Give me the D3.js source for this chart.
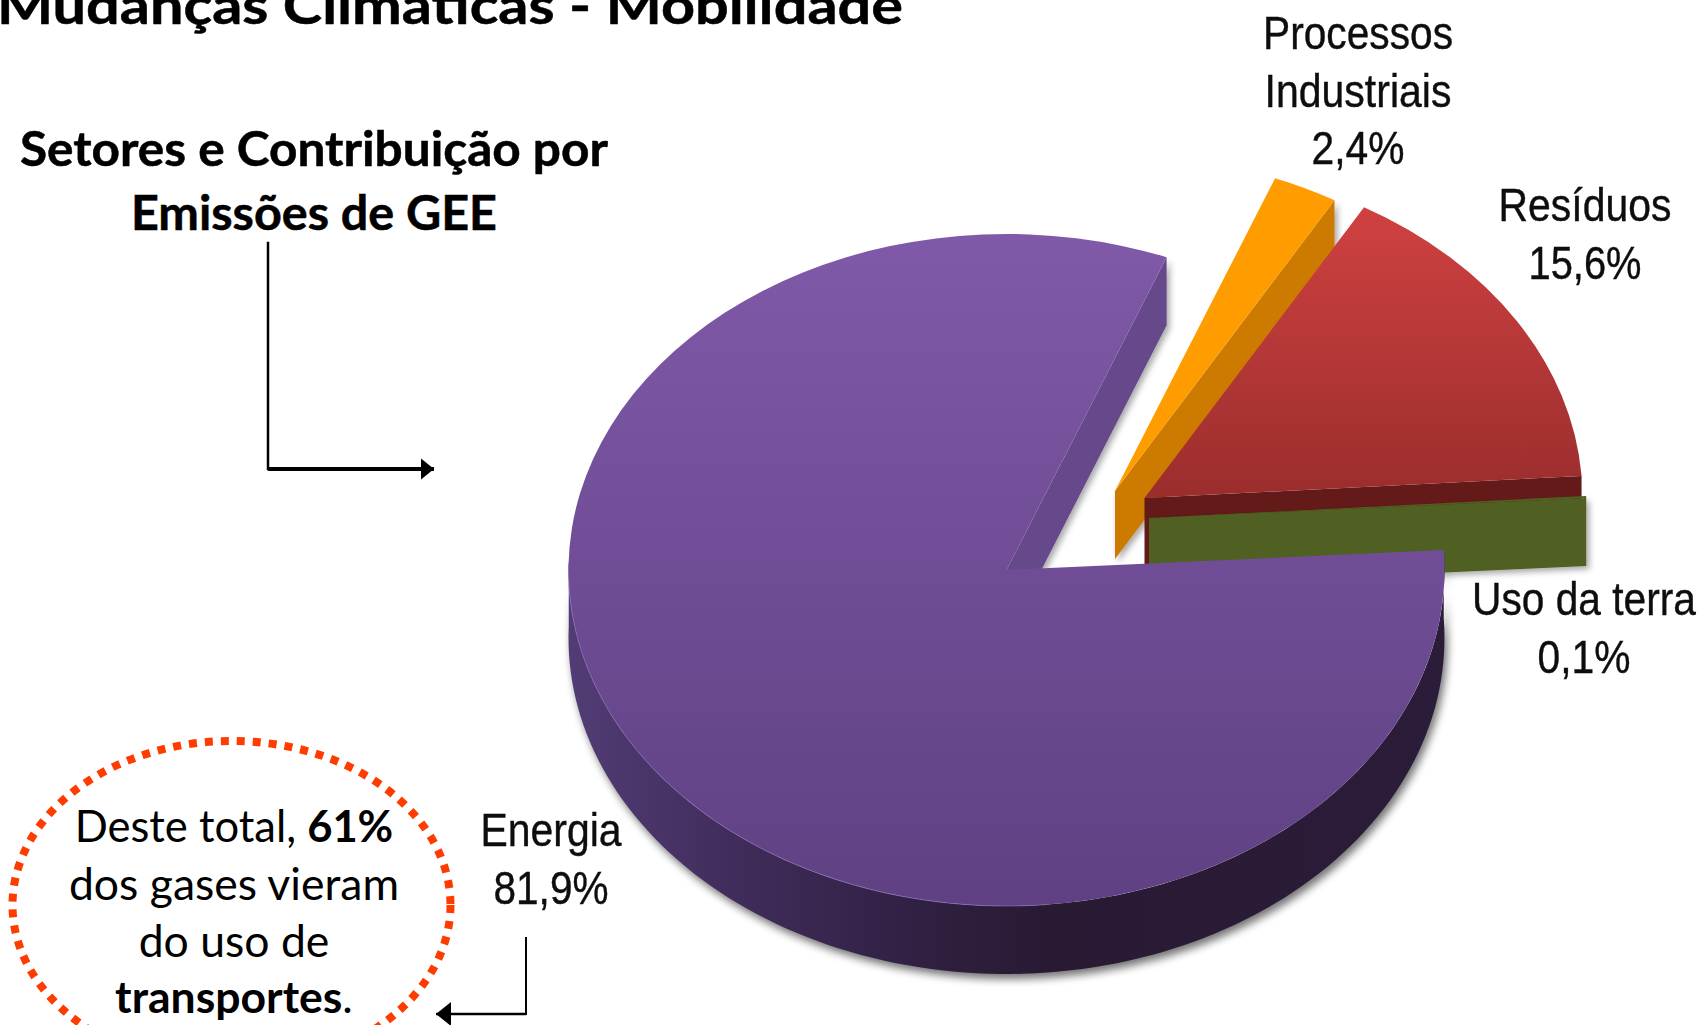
<!DOCTYPE html>
<html>
<head>
<meta charset="utf-8">
<script src="https://cdn.jsdelivr.net/npm/d3@7"></script>
<style>
    html, body { margin: 0; padding: 0; background: #fff; overflow: hidden; }
    svg { display: block; }
</style>
</head>
<body>
<svg id="chart" width="1702" height="1025"></svg>
<script>
// Values
const sectors = ["Energia", "Processos Industriais", "Resíduos", "Uso da terra"];
const shares = [81.9, 2.4, 15.6, 0.1];
const labelLines = [["Energia"], ["Processos", "Industriais"], ["Resíduos"], ["Uso da terra"]];

const titleText = "Mudanças Climáticas - Mobilidade";
const subtitleLines = ["Setores e Contribuição por", "Emissões de GEE"];

const svg = d3.select("#chart");
const defs = svg.append("defs");

// Pie shape
const rx = 438, ry = 336, depth = 68;
const startDeg = 86.6;
const toRad = d => d * Math.PI / 180;

const centers = [[1006.5, 570], [1115, 491], [1144.5, 498], [1149, 518]];
const faceColors = [["#8059a8", "#5f4183"], ["#ff9c00", "#ff9c00"], ["#d04141", "#9b2d2d"], ["#4f6122", "#4f6122"]];
const wallColors = ["#66488b", "#cc7a00", "#641a18", "#4f6122"];

const pie = d3.pie().sort(null)
    .startAngle(toRad(startDeg))
    .endAngle(toRad(startDeg + 360));
const slices = pie(shares);

const arc = d3.arc().innerRadius(0).outerRadius(rx);

// Point on the flattened circle, relative to the slice centre
const rim = a => [rx * Math.sin(a), -ry * Math.cos(a)];

// Gradients for the top faces, spanning the pie height
faceColors.forEach((c, i) => {
    let g = defs.append("linearGradient")
        .attr("id", "face" + i)
        .attr("gradientUnits", "userSpaceOnUse")
        .attr("x1", 0).attr("x2", 0)
        .attr("y1", i == 2 ? -rx * 0.87 : -rx).attr("y2", i == 2 ? 0 : rx);
    g.append("stop").attr("offset", 0).attr("stop-color", c[0]);
    g.append("stop").attr("offset", 1).attr("stop-color", c[1]);
});

let wallGrad = defs.append("linearGradient")
    .attr("id", "outerWall")
    .attr("gradientUnits", "userSpaceOnUse")
    .attr("x1", -rx).attr("x2", rx)
    .attr("y1", 0).attr("y2", 0);
[[0, "#523c75"], [0.2, "#3f2c5a"], [0.4, "#302042"], [0.55, "#281a33"], [1, "#2b1d3a"]].forEach(s => {
    wallGrad.append("stop").attr("offset", s[0]).attr("stop-color", s[1]);
});

let soft = defs.append("filter").attr("id", "soft")
    .attr("x", "-10%").attr("y", "-10%").attr("width", "120%").attr("height", "120%");
soft.append("feGaussianBlur").attr("stdDeviation", 4);

let smallShadow = defs.append("filter").attr("id", "smallShadow")
    .attr("x", "-10%").attr("y", "-10%").attr("width", "120%").attr("height", "120%");
smallShadow.append("feDropShadow")
    .attr("dx", 3).attr("dy", 3).attr("stdDeviation", 3)
    .attr("flood-color", "#000").attr("flood-opacity", 0.35);

let textBlur = defs.append("filter").attr("id", "textBlur");
textBlur.append("feGaussianBlur").attr("stdDeviation", 0.5);

// Outer wall of a slice, from angle a0 to a1
const outerWallPath = (a0, a1) => {
    let angles = d3.range(0, 121).map(i => a0 + (a1 - a0) * i / 120);
    let top = angles.map(rim);
    let bottom = angles.slice().reverse().map(a => [rim(a)[0], rim(a)[1] + depth]);
    return d3.line()(top.concat(bottom)) + "Z";
};

// Flat cut wall between the centre and the rim
const cutWallPath = a => {
    let p = rim(a);
    return d3.line()([[0, 0], p, [p[0], p[1] + depth], [0, depth]]) + "Z";
};

const pieLayer = svg.append("g");

const sliceGroup = i => pieLayer.append("g")
    .attr("transform", `translate(${centers[i][0]},${centers[i][1]})`);

const drawFace = (g, i) => g.append("path")
    .attr("transform", `scale(1,${ry / rx})`)
    .attr("d", arc(slices[i]))
    .attr("fill", `url(#face${i})`);

// Ground shadow first, then back to front: energy cut wall, orange, red, green, energy
let ground = sliceGroup(0);
ground.append("path")
    .attr("transform", "translate(3,5)")
    .attr("d", outerWallPath(toRad(startDeg), toRad(272)))
    .attr("fill", "#000").attr("opacity", 0.55)
    .attr("filter", "url(#soft)");

let energyCut = sliceGroup(0);
energyCut.append("path")
    .attr("d", cutWallPath(slices[0].endAngle))
    .attr("fill", wallColors[0])
    .attr("filter", "url(#smallShadow)");

let orange = sliceGroup(1);
orange.append("path")
    .attr("d", cutWallPath(slices[1].endAngle))
    .attr("fill", wallColors[1])
    .attr("filter", "url(#smallShadow)");
drawFace(orange, 1);

let red = sliceGroup(2);
red.append("path")
    .attr("d", cutWallPath(slices[2].endAngle))
    .attr("fill", wallColors[2]);
drawFace(red, 2);

let green = sliceGroup(3);
green.append("path")
    .attr("d", cutWallPath(slices[3].endAngle))
    .attr("fill", wallColors[3])
    .attr("filter", "url(#smallShadow)");
drawFace(green, 3);

let energy = sliceGroup(0);
energy.append("path")
    .attr("d", outerWallPath(toRad(startDeg), toRad(272)))
    .attr("fill", "url(#outerWall)");
drawFace(energy, 0);

// thin light rim on the lower left of the top face
let rimAngles = d3.range(0, 61).map(i => toRad(175 + i * 1.6));
energy.append("path")
    .attr("d", d3.line()(rimAngles.map(rim)))
    .attr("fill", "none")
    .attr("stroke", "#8a6bb8")
    .attr("stroke-width", 1)
    .attr("opacity", 0.7);

// Slice labels: name lines plus the share with a decimal comma
const fmtShare = v => v.toFixed(1).replace(".", ",") + "%";
const labelX = [551, 1358, 1585, 1584];
const labelY = [846, 49, 221, 615];
const labelStep = [58, 57.5, 58, 58];
const labelFit = [[141, 115], [190, 187, 93], [173, 113], [224, 93]];

sectors.forEach((s, i) => {
    let lines = labelLines[i].concat(fmtShare(shares[i]));
    lines.forEach((line, j) => {
        let t = svg.append("text")
            .attr("text-anchor", "middle")
            .attr("font-family", "'Liberation Sans', Arial, sans-serif")
            .attr("font-size", 47)
            .attr("fill", "#0d0d0d")
            .attr("stroke", "#0d0d0d")
            .attr("stroke-width", 0.4)
            .attr("filter", "url(#textBlur)")
            .text(line);
        // squeeze to the condensed width seen in the picture
        let sx = labelFit[i][j] / t.node().getComputedTextLength();
        t.attr("transform", `translate(${labelX[i]},${labelY[i] + j * labelStep[i]}) scale(${sx},1)`);
    });
});

// Headings
svg.append("text")
    .attr("x", -3).attr("y", 24)
    .attr("font-family", "Lato, sans-serif")
    .attr("font-weight", 700)
    .attr("font-size", 52)
    .attr("stroke", "#000")
    .attr("stroke-width", 0.5)
    .attr("textLength", 906)
    .attr("lengthAdjust", "spacingAndGlyphs")
    .text(titleText);

const subtitleY = [166, 230];
const subtitleFit = [588, 366];
subtitleLines.forEach((line, i) => {
    svg.append("text")
        .attr("x", 314).attr("y", subtitleY[i])
        .attr("text-anchor", "middle")
        .attr("font-family", "Lato, sans-serif")
        .attr("font-weight", 700)
        .attr("font-size", 47)
        .attr("stroke", "#000")
        .attr("stroke-width", 0.5)
        .attr("textLength", subtitleFit[i])
        .attr("lengthAdjust", "spacingAndGlyphs")
        .text(line);
});

// Elbow arrows
const arrowLine = d3.line();
const drawElbow = (pts, widths, head) => {
    pts.slice(1).forEach((p, i) => {
        svg.append("path")
            .attr("d", arrowLine([pts[i], p]))
            .attr("fill", "none")
            .attr("stroke", "#000")
            .attr("stroke-linecap", i == 0 ? "square" : "butt")
            .attr("stroke-width", widths[i]);
    });
    let end = pts[pts.length - 1];
    let dir = Math.sign(end[0] - pts[pts.length - 2][0]);
    svg.append("path")
        .attr("d", arrowLine([[end[0], end[1]], [end[0] - dir * head, end[1] - head * 0.8], [end[0] - dir * head, end[1] + head * 0.8]]) + "Z")
        .attr("fill", "#000");
};
drawElbow([[268, 243], [268, 469], [434, 469]], [2.5, 4], 13);
drawElbow([[526, 938], [526, 1014], [436, 1014]], [2, 2.5], 15);

// Dotted callout
svg.append("ellipse")
    .attr("cx", 231.5).attr("cy", 905)
    .attr("rx", 219).attr("ry", 164)
    .attr("fill", "none")
    .attr("stroke", "#ff3c00")
    .attr("stroke-width", 8)
    .attr("stroke-dasharray", "8 8");

const calloutLines = [
    [["Deste total, ", 400], ["61%", 700]],
    [["dos gases vieram", 400]],
    [["do uso de", 400]],
    [["transportes", 700], [".", 400]]
];
const calloutY = [842, 900, 957, 1013];
const calloutSize = [43.5, 44.5, 44.5, 44.5];
const callout = svg.append("g");
calloutLines.forEach((parts, i) => {
    let t = callout.append("text")
        .attr("x", 234).attr("y", calloutY[i])
        .attr("text-anchor", "middle")
        .attr("font-family", "Lato, sans-serif")
        .attr("font-size", calloutSize[i]);
    parts.forEach(p => {
        t.append("tspan").attr("font-weight", p[1]).text(p[0]);
    });
});
</script>
</body>
</html>
